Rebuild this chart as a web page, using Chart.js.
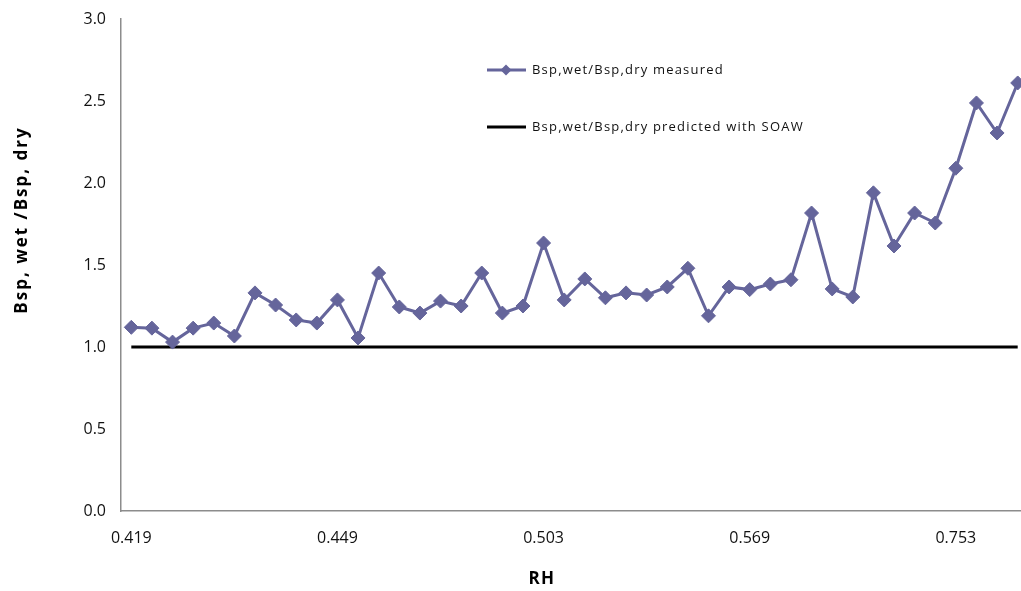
<!DOCTYPE html>
<html>
<head>
<meta charset="utf-8">
<script src="https://cdn.jsdelivr.net/npm/chart.js@4.4.1/dist/chart.umd.min.js"></script>
<style>
html, body { margin: 0; padding: 0; overflow: hidden; background: #fff; }
#wrap { width: 1036px; height: 591px; }
</style>
</head>
<body>
<div id="wrap"><canvas id="rhChart" width="1036" height="591"></canvas></div>
<script>
// RH tick labels shown on the axis (every 10th category)
var tickLabels = ['0.419', '0.449', '0.503', '0.569', '0.753'];
var tickEvery = 10;

// Bsp,wet/Bsp,dry measured
var measured = [1.12, 1.115, 1.03, 1.115, 1.146, 1.067, 1.33, 1.256, 1.165, 1.146,
                1.287, 1.055, 1.451, 1.244, 1.207, 1.28, 1.25, 1.451, 1.207, 1.25,
                1.634, 1.287, 1.415, 1.30, 1.33, 1.317, 1.366, 1.48, 1.19, 1.366,
                1.35, 1.384, 1.41, 1.817, 1.354, 1.305, 1.94, 1.616, 1.817, 1.756,
                2.09, 2.488, 2.305, 2.61];

// predicted with SOAW: flat ratio
var predictedRatio = 1.0;

var labels = measured.map(function(v, i){
    return (i % tickEvery == 0) ? tickLabels[i / tickEvery] : '';
});
var predicted = measured.map(function(){ return predictedRatio; });

var seriesColor = '#65659b';
var fontFamily = "'Open Sans', 'Liberation Sans', sans-serif";

var legendItems = [
    { text: 'Bsp,wet/Bsp,dry measured', color: seriesColor, marker: true },
    { text: 'Bsp,wet/Bsp,dry predicted with SOAW', color: '#000000', marker: false }
];

// legend inside the plot plus the two axis titles, drawn by hand like the Excel original
var extrasPlugin = {
    id: 'extras',
    afterDraw: function(chart){
        var ctx = chart.ctx;
        ctx.save();

        ctx.font = '13px ' + fontFamily;
        ctx.letterSpacing = '1.2px';
        ctx.textBaseline = 'middle';
        legendItems.forEach(function(item, i){
            var y = 70 + i * 57;
            ctx.strokeStyle = item.color;
            ctx.lineWidth = 3;
            ctx.beginPath();
            ctx.moveTo(487, y);
            ctx.lineTo(526, y);
            ctx.stroke();
            if (item.marker){
                ctx.fillStyle = item.color;
                ctx.beginPath();
                ctx.moveTo(506 - 5.5, y);
                ctx.lineTo(506, y - 5.5);
                ctx.lineTo(506 + 5.5, y);
                ctx.lineTo(506, y + 5.5);
                ctx.closePath();
                ctx.fill();
            }
            ctx.fillStyle = '#111';
            ctx.textAlign = 'left';
            ctx.fillText(item.text, 532, y);
        });

        ctx.font = 'bold 17px ' + fontFamily;
        ctx.letterSpacing = '1.5px';
        ctx.textAlign = 'center';
        ctx.fillStyle = '#000';
        ctx.fillText('RH', 542, 579);

        ctx.letterSpacing = '2px';
        ctx.translate(22, 220);
        ctx.rotate(-Math.PI / 2);
        ctx.fillText('Bsp, wet /Bsp, dry', 0, 0);
        ctx.restore();
    }
};

new Chart(document.getElementById('rhChart'), {
    type: 'line',
    data: {
        labels: labels,
        datasets: [{
            label: 'Bsp,wet/Bsp,dry measured',
            data: measured,
            borderColor: seriesColor,
            backgroundColor: seriesColor,
            borderWidth: 3,
            pointStyle: 'rectRot',
            pointRadius: 7,
            pointBorderWidth: 1,
            tension: 0
        }, {
            label: 'Bsp,wet/Bsp,dry predicted with SOAW',
            data: predicted,
            borderColor: '#000000',
            borderWidth: 3,
            pointRadius: 0,
            tension: 0
        }]
    },
    options: {
        responsive: false,
        animation: false,
        layout: { padding: { top: 19, right: 3, left: 0, bottom: 0 } },
        plugins: {
            legend: { display: false },
            tooltip: { enabled: false }
        },
        scales: {
            x: {
                offset: true,
                grid: { display: false, drawTicks: false },
                border: { color: '#8c8c8c', width: 1.5 },
                ticks: {
                    autoSkip: false,
                    maxRotation: 0,
                    padding: 18,
                    color: '#111',
                    font: { family: fontFamily, size: 16 }
                },
                afterFit: function(scale){ scale.height = 80; }
            },
            y: {
                min: 0,
                max: 3,
                grid: { display: false, drawTicks: false },
                border: { color: '#8c8c8c', width: 1.5 },
                ticks: {
                    stepSize: 0.5,
                    padding: 15,
                    color: '#111',
                    font: { family: fontFamily, size: 16 },
                    callback: function(value){
                        return value.toFixed(1);
                    }
                },
                afterFit: function(scale){
                    scale.width = 121;
                    scale.paddingTop = 0;
                    scale.paddingBottom = 0;
                }
            }
        }
    },
    plugins: [extrasPlugin]
});
</script>
</body>
</html>
